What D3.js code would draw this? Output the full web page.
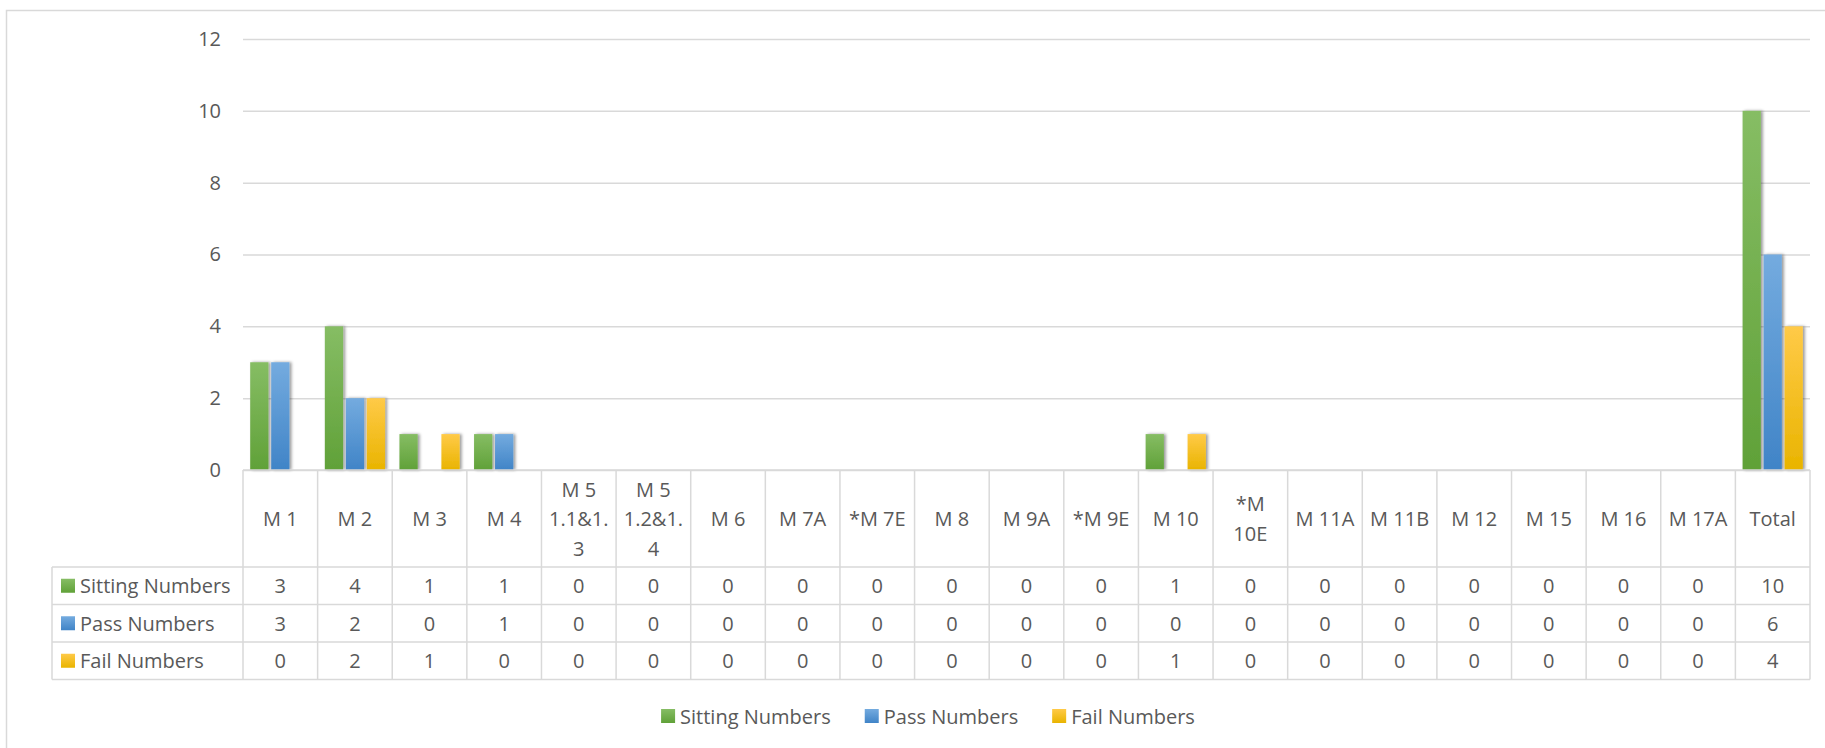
<!DOCTYPE html>
<html>
<head>
<meta charset="utf-8">
<script src="https://cdn.jsdelivr.net/npm/d3@7"></script>
<style>
  body { margin: 0; background: #fff; }
  svg { display: block; }
  text { font-family: 'Open Sans', sans-serif; fill: #595959; }
</style>
</head>
<body>
<svg width="1825" height="748"></svg>
<script>
var categories = ['M 1', 'M 2', 'M 3', 'M 4', 'M 5 1.1&1.3', 'M 5 1.2&1.4', 'M 6', 'M 7A', '*M 7E',
  'M 8', 'M 9A', '*M 9E', 'M 10', '*M 10E', 'M 11A', 'M 11B', 'M 12', 'M 15', 'M 16', 'M 17A', 'Total'];
var seriesNames = ['Sitting Numbers', 'Pass Numbers', 'Fail Numbers'];
var sitting = [3, 4, 1, 1, 0, 0, 0, 0, 0, 0, 0, 0, 1, 0, 0, 0, 0, 0, 0, 0, 10];
var pass = [3, 2, 0, 1, 0, 0, 0, 0, 0, 0, 0, 0, 0, 0, 0, 0, 0, 0, 0, 0, 6];
var fail = [0, 2, 1, 0, 0, 0, 0, 0, 0, 0, 0, 0, 1, 0, 0, 0, 0, 0, 0, 0, 4];
var yTicks = [0, 2, 4, 6, 8, 10, 12];

var seriesValues = [sitting, pass, fail];
var colors = [
  { top: '#86bd64', bottom: '#60a138' },
  { top: '#74abdf', bottom: '#4084c7' },
  { top: '#ffca48', bottom: '#e9b400' }
];

var svg = d3.select('svg');
var plotLeft = 243, plotRight = 1810, plotTop = 39, base = 470;
var headerH = 97, rowH = 37.5, labelLeft = 52;
var lineColor = '#d9d9d9';

// outer chart border
svg.append('rect')
  .attr('x', 6.5).attr('y', 10.5)
  .attr('width', 1830).attr('height', 760)
  .attr('fill', 'none')
  .attr('stroke', lineColor)
  .attr('stroke-width', 1.5);

var defs = svg.append('defs');
colors.forEach(function (c, i) {
  var g = defs.append('linearGradient')
    .attr('id', 'grad' + i)
    .attr('x1', 0).attr('y1', 0).attr('x2', 0).attr('y2', 1);
  g.append('stop').attr('offset', '0%').attr('stop-color', c.top);
  g.append('stop').attr('offset', '100%').attr('stop-color', c.bottom);
});
var shadow = defs.append('filter').attr('id', 'shadow')
  .attr('x', '-50%').attr('y', '-10%').attr('width', '200%').attr('height', '120%');
shadow.append('feDropShadow')
  .attr('dx', 2).attr('dy', 0)
  .attr('stdDeviation', 1.6)
  .attr('flood-color', '#000')
  .attr('flood-opacity', 0.4);

var x0 = d3.scaleBand().domain(categories).range([plotLeft, plotRight]);
var x1 = d3.scaleBand().domain(seriesNames)
  .range([7.2, x0.bandwidth() - 7.2])
  .paddingInner(0.13);
var y = d3.scaleLinear().domain([0, 12]).range([base, plotTop]);

// gridlines + y labels
var yAxis = svg.append('g')
  .attr('transform', 'translate(' + plotLeft + ',0)')
  .call(d3.axisLeft(y).tickValues(yTicks).tickSize(-(plotRight - plotLeft)).tickPadding(22));
yAxis.select('.domain').remove();
yAxis.selectAll('line').attr('stroke', lineColor).attr('stroke-width', 1.5);
yAxis.selectAll('text')
  .style('font', '20px "Open Sans", sans-serif')
  .attr('fill', '#595959');

// bars
var barData = [];
categories.forEach(function (cat, ci) {
  seriesNames.forEach(function (s, si) {
    barData.push({ cat: cat, series: s, si: si, value: seriesValues[si][ci] });
  });
});

svg.append('g')
  .selectAll('rect')
  .data(barData.filter(function (d) { return d.value > 0; }))
  .enter()
  .append('rect')
  .attr('x', function (d) { return x0(d.cat) + x1(d.series); })
  .attr('y', function (d) { return y(d.value); })
  .attr('width', x1.bandwidth())
  .attr('height', function (d) { return base - y(d.value); })
  .attr('fill', function (d) { return 'url(#grad' + d.si + ')'; })
  .attr('filter', 'url(#shadow)');

// data table
var table = svg.append('g');
var tableBottom = base + headerH + rowH * 3;

table.append('line')
  .attr('x1', plotLeft).attr('x2', plotRight)
  .attr('y1', base).attr('y2', base);
d3.range(4).forEach(function (r) {
  var yy = base + headerH + r * rowH;
  table.append('line')
    .attr('x1', labelLeft).attr('x2', plotRight)
    .attr('y1', yy).attr('y2', yy);
});
table.append('line')
  .attr('x1', labelLeft).attr('x2', labelLeft)
  .attr('y1', base + headerH).attr('y2', tableBottom);
categories.concat([null]).forEach(function (c, i) {
  var xx = plotLeft + i * x0.step();
  table.append('line')
    .attr('x1', xx).attr('x2', xx)
    .attr('y1', base).attr('y2', tableBottom);
});
table.selectAll('line').attr('stroke', lineColor).attr('stroke-width', 1.5);

// header labels, wrapped to cell width
var maxW = 64;
var measure = svg.append('text').style('font-size', '20px');
function textW(s) {
  measure.text(s);
  return measure.node().getComputedTextLength();
}
function wrap(label) {
  var words = label.split(' '), lines = [], cur = '';
  words.forEach(function (w) {
    var trial = cur ? cur + ' ' + w : w;
    if (textW(trial) <= maxW) { cur = trial; return; }
    if (cur) lines.push(cur);
    cur = '';
    w.split('').forEach(function (ch) {
      if (textW(cur + ch) <= maxW) cur += ch;
      else { lines.push(cur); cur = ch; }
    });
  });
  if (cur) lines.push(cur);
  return lines;
}

var lineH = 29.5;
categories.forEach(function (cat) {
  var lines = wrap(cat);
  var cx = x0(cat) + x0.bandwidth() / 2;
  var cy = base + headerH / 2 - (lines.length - 1) * lineH / 2;
  lines.forEach(function (ln, li) {
    table.append('text')
      .attr('x', cx)
      .attr('y', cy + li * lineH)
      .attr('text-anchor', 'middle')
      .attr('dominant-baseline', 'central')
      .style('font-size', '20px')
      .text(ln);
  });
});
measure.remove();

// data rows
seriesNames.forEach(function (s, si) {
  var cy = base + headerH + si * rowH + rowH / 2;
  table.append('rect')
    .attr('x', 61).attr('y', cy - 7)
    .attr('width', 14).attr('height', 14)
    .attr('fill', 'url(#grad' + si + ')');
  table.append('text')
    .attr('x', 80).attr('y', cy)
    .attr('dominant-baseline', 'central')
    .style('font-size', '20px')
    .text(s);
  categories.forEach(function (cat, ci) {
    table.append('text')
      .attr('x', x0(cat) + x0.bandwidth() / 2)
      .attr('y', cy)
      .attr('text-anchor', 'middle')
      .attr('dominant-baseline', 'central')
      .style('font-size', '20px')
      .text(seriesValues[si][ci]);
  });
});

// legend
var legend = svg.append('g');
var lx = 0;
seriesNames.forEach(function (s, si) {
  var g = legend.append('g').attr('transform', 'translate(' + lx + ',0)');
  g.append('rect')
    .attr('x', 0).attr('y', -7)
    .attr('width', 14).attr('height', 14)
    .attr('fill', 'url(#grad' + si + ')');
  var t = g.append('text')
    .attr('x', 19).attr('y', 0)
    .attr('dominant-baseline', 'central')
    .style('font-size', '20px')
    .text(s);
  lx += 19 + t.node().getComputedTextLength() + 34;
});
var legendW = lx - 34;
legend.attr('transform', 'translate(' + (928 - legendW / 2) + ',716)');
</script>
</body>
</html>
